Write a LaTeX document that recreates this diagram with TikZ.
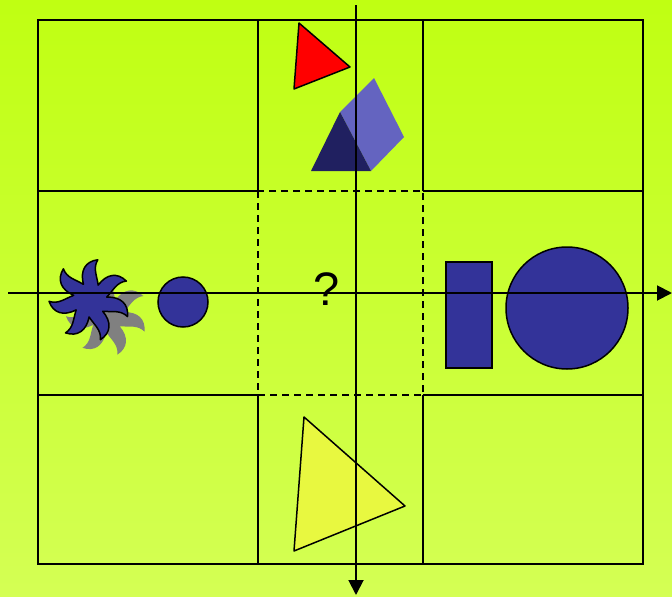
\documentclass[tikz,border=0pt]{standalone}
\usepackage{fontspec}
\setmainfont{Liberation Sans}
\usetikzlibrary{arrows.meta}
\definecolor{bgtop}{RGB}{192,255,18}
\definecolor{bgbot}{RGB}{212,255,84}
\definecolor{navy}{RGB}{51,51,153}
\definecolor{prismdark}{RGB}{32,32,96}
\definecolor{prismlight}{RGB}{100,100,192}
\definecolor{paleyellow}{RGB}{232,248,64}
\definecolor{shadowgray}{RGB}{128,128,128}
\tikzset{
  gridline/.style={line width=1.9pt, black},
  dashline/.style={line width=1.9pt, black, dash pattern=on 7pt off 5pt},
  axis/.style={line width=1.9pt, black, -{Triangle[length=15pt,width=15pt]}},
  shapeline/.style={line width=1.5pt, black},
  flowerpath/.style={line width=1.5pt, black, fill=navy, line join=round}
}
\begin{document}
\begin{tikzpicture}[x=1pt,y=-1pt]
\useasboundingbox (0,0) rectangle (672,597);
\shade[top color=bgtop, bottom color=bgbot] (0,0) rectangle (672,597);

% grid
\coordinate (tl) at (38,20);
\coordinate (br) at (643,564);
\draw[gridline] (tl) rectangle (br);
\draw[gridline] (258,20) -- (258,191);
\draw[gridline] (258,395) -- (258,564);
\draw[gridline] (423,20) -- (423,191);
\draw[gridline] (423,395) -- (423,564);
\draw[gridline] (38,191) -- (258,191);
\draw[gridline] (423,191) -- (643,191);
\draw[gridline] (38,395) -- (258,395);
\draw[gridline] (423,395) -- (643,395);
\draw[dashline] (258,191) rectangle (423,395);

% top cell: red triangle and prism
\draw[shapeline, fill=red, line join=round] (299,23) -- (350,67) -- (294,89) -- cycle;
\fill[prismlight] (340,112) -- (374,78) -- (404,137) -- (371,171) -- cycle;
\fill[prismdark] (311,171) -- (340,112) -- (371,171) -- cycle;

% bottom cell: yellow triangle
\draw[shapeline, fill=paleyellow, line join=round] (304,417) -- (405,506) -- (294,551) -- cycle;

% right cell
\draw[shapeline, fill=navy] (446,262) rectangle (492,368);
\draw[shapeline, fill=navy] (567,308) circle[radius=61];

% left cell: circle
\draw[shapeline, fill=navy] (183,302) circle[radius=25];

% left cell: flower with shadow
\begin{scope}[shift={(90,300)}, y=1pt]
  \fill[shadowgray, shift={(17,-15)}] (87+25.714:17)
    \foreach \i [evaluate=\i as \b using 87-\i*51.4286] in {0,...,6}{
      .. controls ({\b+22}:31) and ({\b+10}:39) .. ({\b-8}:41)
      .. controls ({\b-2}:32) and ({\b-12}:26) .. ({\b-25.714}:17)
    } -- cycle;
  \draw[flowerpath] (87+25.714:17)
    \foreach \i [evaluate=\i as \b using 87-\i*51.4286] in {0,...,6}{
      .. controls ({\b+22}:31) and ({\b+10}:39) .. ({\b-8}:41)
      .. controls ({\b-2}:32) and ({\b-12}:26) .. ({\b-25.714}:17)
    } -- cycle;
\end{scope}

% question mark
\node[font=\fontsize{47}{47}\selectfont, inner sep=0pt] (q) at (327,289) {?};

% axes
\coordinate (xs) at (8,293);
\coordinate (xe) at (672,293);
\coordinate (ys) at (356,5);
\coordinate (ye) at (356,595);
\draw[axis] (xs) -- (xe);
\draw[axis] (ys) -- (ye);
\end{tikzpicture}
\end{document}
